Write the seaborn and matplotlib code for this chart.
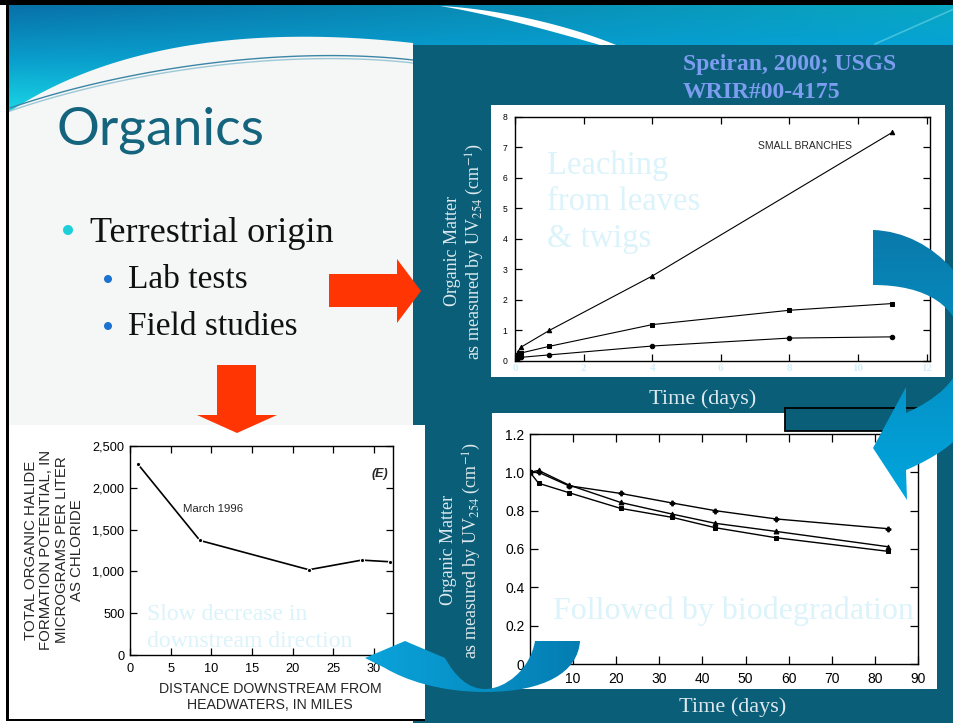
import numpy as np
import pandas as pd
import matplotlib
matplotlib.use("Agg")
import matplotlib.pyplot as plt
from matplotlib.patches import Polygon, Rectangle, Circle, PathPatch
from matplotlib.path import Path
from matplotlib.colors import to_rgb
import seaborn as sns

sns.set_style("ticks")
plt.rcParams["font.family"] = ["Liberation Sans", "DejaVu Sans"]
plt.rcParams["mathtext.fontset"] = "stix"
plt.rcParams["axes.linewidth"] = 1.0

# ---------------- data ----------------
# leaching of organic matter (UV254) over the first days
leach_days_tri = [0, 0.04, 0.08, 0.17, 1, 4, 11]
leach_uv_tri = [0.05, 0.15, 0.30, 0.45, 1.00, 2.78, 7.48]
leach_days_sq = [0, 0.04, 0.08, 0.17, 1, 4, 8, 11]
leach_uv_sq = [0.05, 0.12, 0.20, 0.26, 0.48, 1.19, 1.66, 1.88]
leach_days_dot = [0, 0.04, 0.08, 0.17, 1, 4, 8, 11]
leach_uv_dot = [0.03, 0.06, 0.09, 0.12, 0.20, 0.49, 0.75, 0.79]
leach_xticks = [0, 2, 4, 6, 8, 10, 12]
leach_yticks = [0, 1, 2, 3, 4, 5, 6, 7, 8]

# biodegradation over ~3 months
bio_days = [0, 2, 9, 21, 33, 43, 57, 83]
bio_uv_plus = [1.00, 1.00, 0.93, 0.89, 0.84, 0.80, 0.757, 0.706]
bio_uv_tri = [1.00, 1.01, 0.934, 0.843, 0.782, 0.734, 0.692, 0.612]
bio_uv_sq = [1.00, 0.943, 0.894, 0.812, 0.765, 0.711, 0.659, 0.588]
bio_xticks = [10, 20, 30, 40, 50, 60, 70, 80, 90]
bio_yticks = [0, 0.2, 0.4, 0.6, 0.8, 1.0, 1.2]
bio_yticklabels = ["0", "0.2", "0.4", "0.6", "0.8", "1.0", "1.2"]

# total organic halide formation potential along the stream
halide_miles = [1, 8.6, 22, 28.5, 32]
halide_tox = [2280, 1370, 1020, 1135, 1115]
halide_xticks = [0, 5, 10, 15, 20, 25, 30]
halide_yticks = [0, 500, 1000, 1500, 2000, 2500]
halide_yticklabels = ["0", "500", "1,000", "1,500", "2,000", "2,500"]

# ---------------- colours ----------------
TEAL = "#0a5e78"
LIGHT_TXT = "#dbf3fa"
AXIS_TXT = "#dde9ee"
RED = "#ff3503"
SERIF = ["Liberation Serif", "DejaVu Serif"]

W, H = 954, 723
fig = plt.figure(figsize=(W / 100, H / 100), dpi=100)
fig.patch.set_facecolor("white")


def px_axes(x0, y0, x1, y1, z):
    return fig.add_axes([x0 / W, 1 - y1 / H, (x1 - x0) / W, (y1 - y0) / H], zorder=z)


def page_axes(z):
    a = px_axes(0, 0, W, H, z)
    a.set_xlim(0, W)
    a.set_ylim(H, 0)
    a.axis("off")
    a.patch.set_alpha(0)
    return a


def bezier(p0, p1, p2, p3, n=60):
    t = np.linspace(0, 1, n)[:, None]
    p0, p1, p2, p3 = map(np.array, (p0, p1, p2, p3))
    return (1 - t) ** 3 * p0 + 3 * (1 - t) ** 2 * t * p1 + 3 * (1 - t) * t ** 2 * p2 + t ** 3 * p3


def build_path(start, segs):
    verts, codes = [start], [Path.MOVETO]
    for s in segs:
        if len(s) == 3:
            verts += list(s)
            codes += [Path.CURVE4] * 3
        else:
            verts.append(s[0])
            codes.append(Path.LINETO)
    verts.append(start)
    codes.append(Path.CLOSEPOLY)
    return Path(verts, codes)


def gradient_fill(ax, path, c0, c1, horizontal=False, z=5):
    patch = PathPatch(path, facecolor="none", edgecolor="none")
    ax.add_patch(patch)
    v = path.vertices
    x0, y0 = v[:, 0].min(), v[:, 1].min()
    x1, y1 = v[:, 0].max(), v[:, 1].max()
    t = np.linspace(0, 1, 256)[:, None]
    a, b = np.array(to_rgb(c0)), np.array(to_rgb(c1))
    ramp = a * (1 - t) + b * t
    img = ramp[None, :, :] if horizontal else ramp[:, None, :]
    im = ax.imshow(img, extent=(x0, x1, y1, y0), origin="upper", aspect="auto",
                   interpolation="bilinear", zorder=z)
    im.set_clip_path(patch)
    ax.set_xlim(0, W)
    ax.set_ylim(H, 0)


# ---------------- slide background ----------------
bg = page_axes(0)

# header gradient
hx = np.arange(9, W)
hy = np.arange(5, 116)
X, Y = np.meshgrid(hx, hy)
def ramp_stops(y, stops):
    ys = [s[0] for s in stops]
    cols = np.array([to_rgb(s[1]) for s in stops])
    return np.stack([np.interp(y, ys, cols[:, k]) for k in range(3)], axis=-1)
left_col = ramp_stops(Y, [(5, "#0870a8"), (60, "#0a9fcc"), (112, "#1ad8e6")])
right_col = ramp_stops(Y, [(5, "#0aa8c2"), (45, "#05a3d6"), (112, "#05a3d6")])
wgt = (X / W)[..., None]
header = left_col * (1 - wgt) + right_col * wgt
bg.imshow(header, extent=(9, W, 116, 5), origin="upper", aspect="auto",
          interpolation="bilinear", zorder=0)
bg.set_xlim(0, W)
bg.set_ylim(H, 0)

# white swoosh in the header
sw_top = bezier((440, 6), (500, 9), (570, 26), (616, 45))
sw_bot = bezier((600, 45), (555, 32), (490, 14), (440, 6))
bg.add_patch(Polygon(np.vstack([sw_top, sw_bot]), closed=True, fc="white", ec="none", zorder=1))
bg.plot([954, 875], [9, 44], color="#7fe0ec", lw=1.2, alpha=0.5, zorder=1)

# light content area under the arc
arc = bezier((9, 112), (110, 45), (250, 25), (413, 43))
bg.add_patch(Polygon(np.vstack([arc, [(413, 426), (9, 426)]]), closed=True,
                     fc="#f5f6f6", ec="none", zorder=2))
for off, col in [(0, "#3b86a6"), (3, "#9cc8d6")]:
    ln = bezier((10, 108 + off), (120, 70 + off), (280, 45 + off), (413, 60 + off))
    bg.plot(ln[:, 0], ln[:, 1], color=col, lw=1.0, zorder=3)

# dark teal panel on the right
bg.add_patch(Rectangle((413, 45), W - 413, H - 45, fc=TEAL, ec="none", zorder=3))

# white chart cards
bg.add_patch(Rectangle((491, 105), 454, 272, fc="white", ec="none", zorder=4))
bg.add_patch(Rectangle((492, 413), 445, 276, fc="white", ec="none", zorder=4))
bg.add_patch(Rectangle((10, 425), 415, 294, fc="white", ec="none", zorder=4))
bg.add_patch(Rectangle((785, 407.5), 145, 23, fc=TEAL, ec="black", lw=1.3, zorder=5))

# slide frame
bg.add_patch(Rectangle((0, 0), W, 5, fc="black", ec="none", zorder=6))
bg.add_patch(Rectangle((6.5, 0), 3, 721, fc="black", ec="none", zorder=6))
bg.add_patch(Rectangle((6.5, 718.5), 419, 2.5, fc="black", ec="none", zorder=6))


def style_axes(ax, tick_len, label_size, pad):
    ax.set_facecolor("white")
    ax.tick_params(direction="in", top=True, right=True, length=tick_len, width=0.9,
                   labelsize=label_size, pad=pad, colors="k")
    for s in ax.spines.values():
        s.set_linewidth(1.0)
        s.set_color("k")
    ax.set_xlabel("")
    ax.set_ylabel("")


# ---------------- leaching chart ----------------
ax1 = px_axes(515, 116.5, 930, 361, 5)
leach = pd.concat([
    pd.DataFrame({"days": leach_days_tri, "uv": leach_uv_tri, "set": "tri"}),
    pd.DataFrame({"days": leach_days_sq, "uv": leach_uv_sq, "set": "sq"}),
    pd.DataFrame({"days": leach_days_dot, "uv": leach_uv_dot, "set": "dot"}),
])
sns.lineplot(data=leach, x="days", y="uv", hue="set", style="set",
             palette={"tri": "k", "sq": "k", "dot": "k"},
             markers={"tri": "^", "sq": "s", "dot": "o"}, dashes=False,
             markersize=3.2, markeredgecolor="k", linewidth=0.8, legend=False, ax=ax1)
ax1.set_xlim(0, 12.1)
ax1.set_ylim(0, 8)
ax1.set_yticks(leach_yticks)
ax1.set_yticklabels([str(v) for v in leach_yticks])
ax1.set_xticks(leach_xticks)
style_axes(ax1, 5, 6.2, 5.5)
ax1.set_xticklabels([str(v) for v in leach_xticks], fontfamily=SERIF, fontweight="bold",
                    color="#d3eff9", fontsize=8)
ax1.tick_params(axis="x", pad=2)
ax1.text(7.08, 7.03, "SMALL BRANCHES", fontsize=7.5, ha="left", va="center")

# ---------------- biodegradation chart ----------------
ax2 = px_axes(530, 434, 918, 664, 5)
bio = pd.concat([
    pd.DataFrame({"days": bio_days, "uv": bio_uv_plus, "set": "plus"}),
    pd.DataFrame({"days": bio_days, "uv": bio_uv_tri, "set": "tri"}),
    pd.DataFrame({"days": bio_days, "uv": bio_uv_sq, "set": "sq"}),
])
sns.lineplot(data=bio, x="days", y="uv", hue="set", style="set",
             palette={"plus": "k", "tri": "k", "sq": "k"},
             markers={"plus": "P", "tri": "^", "sq": "s"}, dashes=False,
             markersize=3.5, markeredgecolor="k", linewidth=1.0, legend=False, ax=ax2)
ax2.set_xlim(0, 90)
ax2.set_ylim(0, 1.2)
ax2.set_xticks(bio_xticks)
ax2.set_yticks(bio_yticks)
ax2.set_yticklabels(bio_yticklabels)
style_axes(ax2, 6, 10, 4)
ax2.tick_params(axis="x", pad=6)

# ---------------- halide chart ----------------
ax3 = px_axes(130, 446, 393, 655, 5)
sns.lineplot(x=halide_miles, y=halide_tox, color="k", marker="o", markersize=3,
             linewidth=1.2, ax=ax3)
ax3.set_xlim(0, 32.35)
ax3.set_ylim(0, 2500)
ax3.set_xticks(halide_xticks)
ax3.set_yticks(halide_yticks)
ax3.set_yticklabels(halide_yticklabels)
style_axes(ax3, 5, 9.2, 4)
ax3.tick_params(axis="x", pad=6)
ax3.text(6.5, 1750, "March 1996", fontsize=8.2, ha="left", va="center")
ax3.text(30.7, 2160, "(E)", fontsize=9, fontweight="bold", fontstyle="italic",
         ha="center", va="center")

# ---------------- foreground: text, arrows ----------------
fg = page_axes(10)

fg.text(57, 144, "Organics", fontsize=38.5, color="#14647d",
        family=["Lato", "DejaVu Sans"], ha="left", va="baseline")
fg.add_patch(Circle((68, 230), 5, fc="#1ccfd8", ec="none"))
fg.text(90, 242, "Terrestrial origin", fontsize=26, family=SERIF, color="#111111",
        ha="left", va="baseline")
for yb, label in [(288, "Lab tests"), (335, "Field studies")]:
    fg.add_patch(Circle((108, yb - 9), 4, fc="#1b72d0", ec="none"))
    fg.text(128, yb, label, fontsize=24, family=SERIF, color="#111111",
            ha="left", va="baseline")

fg.text(683, 70, "Speiran, 2000; USGS", fontsize=17, fontweight="bold", family=SERIF,
        color="#7d9df0", ha="left", va="baseline")
fg.text(683, 98, "WRIR#00-4175", fontsize=17, fontweight="bold", family=SERIF,
        color="#7d9df0", ha="left", va="baseline")

# faint overlay captions
for yb, line in [(174, "Leaching"), (210, "from leaves"), (247, "& twigs")]:
    fg.text(547, yb, line, fontsize=23.5, family=SERIF, color=LIGHT_TXT,
            ha="left", va="baseline", zorder=1)
fg.text(553, 619, "Followed by biodegradation", fontsize=23, family=SERIF,
        color=LIGHT_TXT, ha="left", va="baseline", zorder=1)
fg.text(147, 620, "Slow decrease in", fontsize=17, family=SERIF, color=LIGHT_TXT,
        ha="left", va="baseline", zorder=1)
fg.text(147, 647, "downstream direction", fontsize=17, family=SERIF, color=LIGHT_TXT,
        ha="left", va="baseline", zorder=1)

# axis titles on the teal panel
uv_line = "as measured by UV$_{254}$ (cm$^{-1}$)"
for (xa, xb, yc) in [(453, 475, 251), (449, 472, 550)]:
    fg.text(xa, yc, "Organic Matter", rotation=90, fontsize=13, family=SERIF,
            color=AXIS_TXT, ha="center", va="center")
    fg.text(xb, yc, uv_line, rotation=90, fontsize=13, family=SERIF,
            color=AXIS_TXT, ha="center", va="center")
fg.text(703, 404, "Time (days)", fontsize=16, family=SERIF, color=AXIS_TXT,
        ha="center", va="baseline")
fg.text(733, 712, "Time (days)", fontsize=16, family=SERIF, color=AXIS_TXT,
        ha="center", va="baseline")

# halide chart axis titles
fg.text(54, 550, "TOTAL ORGANIC HALIDE\nFORMATION POTENTIAL, IN\nMICROGRAMS PER LITER\nAS CHLORIDE",
        rotation=90, fontsize=10.8, ha="center", va="center", linespacing=1.15,
        multialignment="center")
fg.text(270, 697, "DISTANCE DOWNSTREAM FROM\nHEADWATERS, IN MILES", fontsize=10.2,
        ha="center", va="center", linespacing=1.15, multialignment="center")

# red block arrows
fg.add_patch(Polygon([(329, 274), (397, 274), (397, 259), (421, 291), (397, 323),
                      (397, 307), (329, 307)], closed=True, fc=RED, ec="none", zorder=6))
fg.add_patch(Polygon([(217, 365), (256, 365), (256, 415), (277, 415), (237, 433),
                      (197, 415), (217, 415)], closed=True, fc=RED, ec="none", zorder=6))

# curved blue arrows
big_arrow = build_path((873, 230), [
    ((935, 232), (985, 290), (990, 360)),
    ((990, 410), (965, 445), (906, 470)),
    ((907, 500),),
    ((873, 448),),
    ((906, 387),),
    ((906, 413),),
    ((935, 400), (962, 380), (962, 350)),
    ((962, 305), (925, 285), (873, 285)),
])
gradient_fill(fg, big_arrow, "#0a7aab", "#00a6de", z=5)

small_arrow = build_path((580, 641), [
    ((578, 672), (545, 692), (485, 692)),
    ((440, 692), (405, 680), (385, 668)),
    ((365, 658),),
    ((405, 641),),
    ((445, 658),),
    ((455, 676), (468, 689), (485, 689)),
    ((505, 689), (530, 670), (535, 641)),
])
gradient_fill(fg, small_arrow, "#0aa4db", "#047db2", horizontal=True, z=5)

fig.savefig("out.png", dpi=100)
